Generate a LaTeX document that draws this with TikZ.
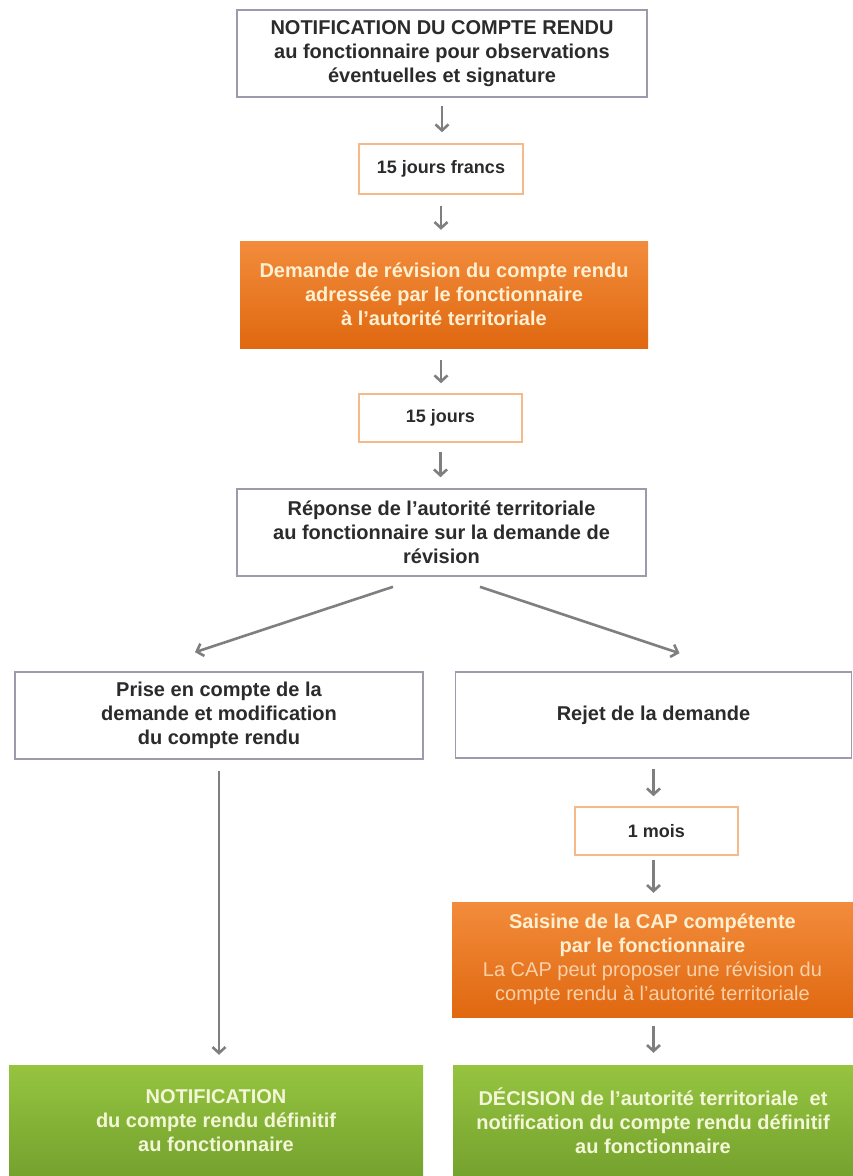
\documentclass[tikz,border=0pt]{standalone}
\usepackage{fontspec}
\setmainfont{Liberation Sans}
\usetikzlibrary{arrows.meta,calc}
\definecolor{txtdark}{HTML}{2B2B2B}
\definecolor{boxborder}{HTML}{9B9BAE}
\definecolor{smallborder}{HTML}{F5B98A}
\definecolor{arrgray}{HTML}{7F7F7F}
\definecolor{orgtop}{HTML}{F28C3C}
\definecolor{orgbot}{HTML}{E06810}
\definecolor{orgtxt}{HTML}{FFF0D2}
\definecolor{orglight}{HTML}{FAD0A8}
\definecolor{grntop}{HTML}{96C440}
\definecolor{grnbot}{HTML}{74A22E}
\definecolor{grntxt}{HTML}{F4F6D8}
\tikzset{
  base/.style={inner sep=0pt, align=center, font=\fontsize{20}{24}\selectfont\bfseries},
  whitebox/.style={base, draw=boxborder, line width=1.6pt, fill=white, text=txtdark},
  smallbox/.style={base, draw=smallborder, line width=1.6pt, fill=white, text=txtdark, font=\fontsize{18}{22}\selectfont\bfseries},
  orangebox/.style={base, top color=orgtop, bottom color=orgbot, text=orgtxt},
  greenbox/.style={base, top color=grntop, bottom color=grnbot, text=grntxt},
  shortarr/.style={draw=arrgray, line width=2.6pt, -{Straight Barb[length=6pt,width=13pt]}},
  longarr/.style={draw=arrgray, line width=2.6pt, -{Straight Barb[length=6pt,width=13pt]}}
}
\begin{document}
\begin{tikzpicture}[x=1pt,y=-1pt]
\useasboundingbox (0,0) rectangle (853,1176);
\fill[white] (0,0) rectangle (853,1176);

\node[whitebox, minimum width=410pt, minimum height=87pt] (top) at (442,53.5)
  {NOTIFICATION DU COMPTE RENDU\\au fonctionnaire pour observations\\éventuelles et signature};
\node[smallbox, minimum width=164pt, minimum height=50pt] (jf) at (441,169) {15 jours francs};
\node[orangebox, minimum width=408pt, minimum height=107pt] (dem) at (444,294.5)
  {Demande de révision du compte rendu\\adressée par le fonctionnaire\\à l’autorité territoriale};
\node[smallbox, minimum width=163pt, minimum height=48pt] (jq) at (440.5,418) {15 jours};
\node[whitebox, minimum width=409pt, minimum height=87pt] (rep) at (441.5,532.5)
  {Réponse de l’autorité territoriale\\au fonctionnaire sur la demande de\\révision};
\node[whitebox, minimum width=408pt, minimum height=87pt] (prise) at (219,715.5)
  {Prise en compte de la\\demande et modification\\du compte rendu};
\node[whitebox, minimum width=396pt, minimum height=86pt] (rejet) at (653.5,715)
  {Rejet de la demande};
\node[smallbox, minimum width=163pt, minimum height=48pt] (mois) at (656.5,831) {1 mois};
\node[orangebox, minimum width=401pt, minimum height=115pt] (cap) at (652.5,959.5)
  {Saisine de la CAP compétente\\par le fonctionnaire\\{\mdseries\color{orglight}La CAP peut proposer une révision du}\\{\mdseries\color{orglight}compte rendu à l’autorité territoriale}};
\node[greenbox, minimum width=414pt, minimum height=111pt] (notif) at (216,1120.5)
  {NOTIFICATION\\du compte rendu définitif\\au fonctionnaire};
\node[greenbox, minimum width=400pt, minimum height=111pt] (dec) at (653,1120.5)
  {DÉCISION de l’autorité territoriale\ \ et\\notification du compte rendu définitif\\au fonctionnaire};

\draw[shortarr, shorten <=8pt, shorten >=11pt] (top.south) -- (top.south |- jf.north);
\draw[shortarr, shorten <=11pt, shorten >=11pt] (jf.south) -- (jf.south |- dem.north);
\draw[shortarr, shorten <=12pt, shorten >=10pt] (jf.south |- dem.south) -- (jf.south |- jq.north);
\draw[shortarr, shorten <=9pt, shorten >=11pt] (jq.south) -- (jq.south |- rep.north);

\coordinate (dl0) at ($(rep.south)+(-48.5,10)$);
\coordinate (dl1) at ($(prise.north)+(-24,-19)$);
\coordinate (dr0) at ($(rep.south)+(38.5,10)$);
\coordinate (dr1) at ($(rejet.north)+(26,-18)$);
\draw[longarr] (dl0) -- (dl1);
\draw[longarr] (dr0) -- (dr1);

\draw[longarr, shorten <=11pt, shorten >=10pt] (prise.south) -- (prise.south |- notif.north);

\draw[shortarr, shorten <=10pt, shorten >=10pt] (rejet.south) -- (rejet.south |- mois.north);
\draw[shortarr, shorten <=4pt, shorten >=9pt] (rejet.south |- mois.south) -- (rejet.south |- cap.north);
\draw[shortarr, shorten <=9pt, shorten >=12pt] (rejet.south |- cap.south) -- (rejet.south |- dec.north);
\end{tikzpicture}
\end{document}
